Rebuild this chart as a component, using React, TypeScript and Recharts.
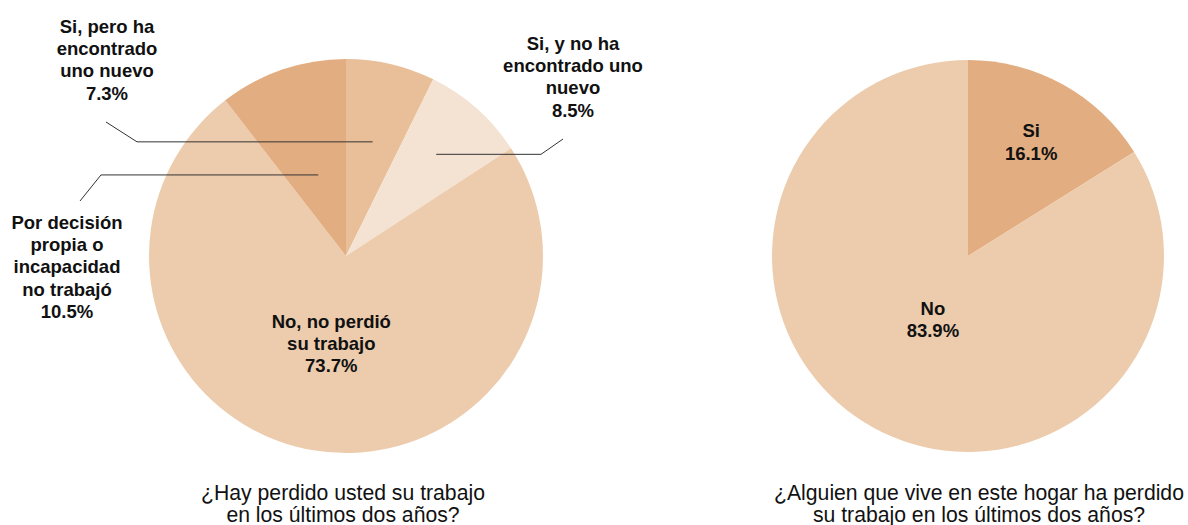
import React from 'react';
import { PieChart, Pie, Cell } from 'recharts';

// left pie: ¿Hay perdido usted su trabajo...?
const lostJobNames = [
  'Si, pero ha encontrado uno nuevo',
  'Si, y no ha encontrado uno nuevo',
  'No, no perdió su trabajo',
  'Por decisión propia o incapacidad no trabajó',
];
const lostJobValues = [7.3, 8.5, 73.7, 10.5];
const lostJobLines = [
  ['Si, pero ha', 'encontrado', 'uno nuevo'],
  ['Si, y no ha', 'encontrado uno', 'nuevo'],
  ['No, no perdió', 'su trabajo'],
  ['Por decisión', 'propia o', 'incapacidad', 'no trabajó'],
];
const lostJobColors = ['#e8bf98', '#f4e2d2', '#ecccad', '#e2ad80'];

// right pie: ¿Alguien que vive en este hogar...?
const householdNames = ['Si', 'No'];
const householdValues = [16.1, 83.9];
const householdLines = [['Si'], ['No']];
const householdColors = ['#e2ad80', '#ecccad'];

const titleLeft = ['¿Hay perdido usted su trabajo', 'en los últimos dos años?'];
const titleRight = ['¿Alguien que vive en este hogar ha perdido', 'su trabajo en los últimos dos años?'];

const leftData = lostJobNames.map((name, i) => ({ name, value: lostJobValues[i], lines: lostJobLines[i] }));
const rightData = householdNames.map((name, i) => ({ name, value: householdValues[i], lines: householdLines[i] }));

const FONT = '"Liberation Sans", Arial, Helvetica, sans-serif';
const LABEL_SIZE = 18.5;
const LINE_H = 22.2;
const RAD = Math.PI / 180;

// label placement, relative to the pie centre
type Leader = { frac: number; elbowX: number; endX: number; endY: number; textX: number; textY: number };
const leftInside: Record<number, number> = { 2: 0.45 };
const leftLeaders: Record<number, Leader> = {
  0: { frac: 0.595, elbowX: -209, endX: -240, endY: -134, textX: -239, textY: -223 },
  1: { frac: 0.69, elbowX: 195, endX: 217, endY: -117, textX: 227, textY: -206 },
  3: { frac: 0.435, elbowX: -245, endX: -266, endY: -55, textX: -279, textY: -27 },
};
const rightInside: Record<number, number> = { 0: 0.665, 1: 0.37 };

function Lines({ x, y, lines }: { x: number; y: number; lines: string[] }) {
  return (
    <text x={x} y={y} textAnchor="middle" fill="#111" fontFamily={FONT} fontWeight="bold" fontSize={LABEL_SIZE}>
      {lines.map((l, i) => (
        <tspan key={i} x={x} dy={i === 0 ? 0 : LINE_H}>
          {l}
        </tspan>
      ))}
    </text>
  );
}

function makeLabel(inside: Record<number, number>, leaders: Record<number, Leader>) {
  return (props: any) => {
    const { cx, cy, midAngle, outerRadius, index, payload, value } = props;
    const lines = [...(payload.lines ?? []), `${Number(value).toFixed(1)}%`];
    if (inside[index] !== undefined) {
      const r = outerRadius * inside[index];
      const x = cx + r * Math.cos(-midAngle * RAD);
      const y = cy + r * Math.sin(-midAngle * RAD);
      const first = y + 6.5 - ((lines.length - 1) * LINE_H) / 2;
      return <Lines key={index} x={x} y={first} lines={lines} />;
    }
    const ld = leaders[index];
    if (!ld) return null;
    const r = outerRadius * ld.frac;
    const ax = cx + r * Math.cos(-midAngle * RAD);
    const ay = cy + r * Math.sin(-midAngle * RAD);
    return (
      <g key={index}>
        <polyline
          points={`${ax},${ay} ${cx + ld.elbowX},${ay} ${cx + ld.endX},${cy + ld.endY}`}
          fill="none"
          stroke="#333"
          strokeWidth={1}
        />
        <Lines x={cx + ld.textX} y={cy + ld.textY} lines={lines} />
      </g>
    );
  };
}

function Title({ lines, left, width }: { lines: string[]; left: number; width: number }) {
  return (
    <div
      style={{
        position: 'absolute',
        left,
        top: 482,
        width,
        textAlign: 'center',
        fontFamily: FONT,
        fontSize: 21.2,
        lineHeight: '22px',
        color: '#111',
        whiteSpace: 'nowrap',
      }}
    >
      {lines.map((l, i) => (
        <div key={i}>{l}</div>
      ))}
    </div>
  );
}

export default function App() {
  return (
    <div style={{ position: 'absolute', left: 0, top: 0, width: 1188, height: 525, background: '#fff' }}>
      <PieChart width={1188} height={525} margin={{ top: 0, right: 0, bottom: 0, left: 0 }}>
        <Pie
          data={leftData}
          dataKey="value"
          nameKey="name"
          cx={346}
          cy={256}
          outerRadius={197}
          startAngle={90}
          endAngle={-270}
          stroke="none"
          labelLine={false}
          label={makeLabel(leftInside, leftLeaders)}
          isAnimationActive={false}
        >
          {leftData.map((d, i) => (
            <Cell key={d.name} fill={lostJobColors[i]} />
          ))}
        </Pie>
        <Pie
          data={rightData}
          dataKey="value"
          nameKey="name"
          cx={968}
          cy={256}
          outerRadius={196}
          startAngle={90}
          endAngle={-270}
          stroke="none"
          labelLine={false}
          label={makeLabel(rightInside, {})}
          isAnimationActive={false}
        >
          {rightData.map((d, i) => (
            <Cell key={d.name} fill={householdColors[i]} />
          ))}
        </Pie>
      </PieChart>
      <Title lines={titleLeft} left={143} width={400} />
      <Title lines={titleRight} left={769} width={420} />
    </div>
  );
}
